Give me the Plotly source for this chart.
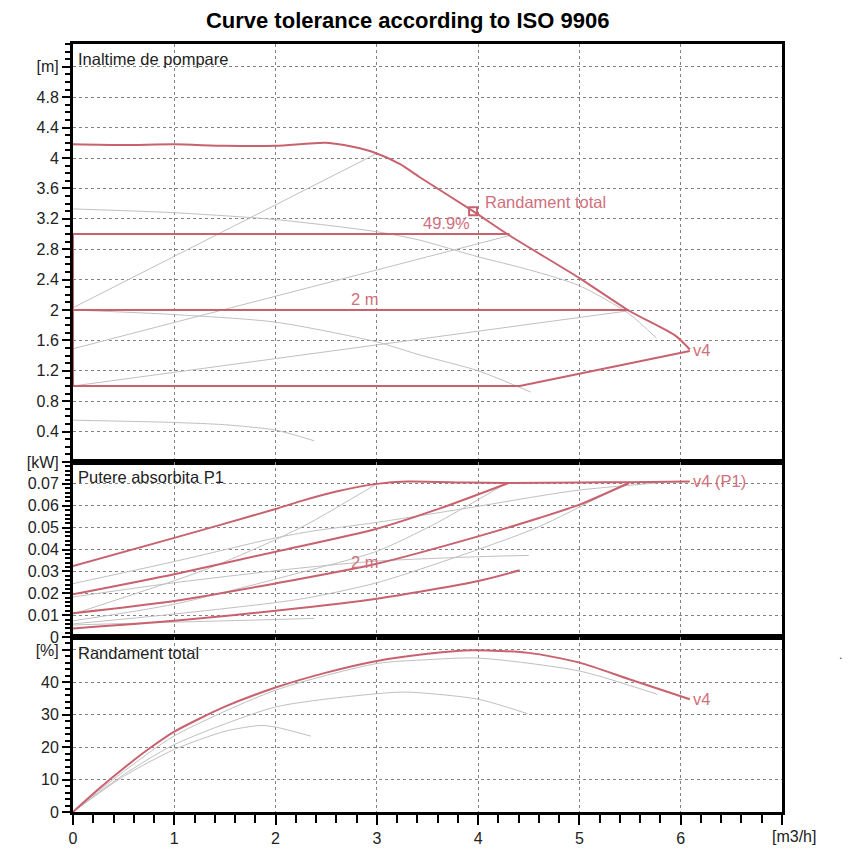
import plotly.graph_objects as go
from plotly.subplots import make_subplots

# ---------------- data ----------------
# Head panel [m]
Q_v4_H = [0, 0.5, 1.0, 1.5, 2.0, 2.5, 2.75, 3.0, 3.23, 3.42, 3.95, 4.31, 5.0, 5.49, 5.95, 6.09]
H_v4 = [4.18, 4.17, 4.18, 4.16, 4.16, 4.20, 4.15, 4.06, 3.92, 3.75, 3.30, 2.98, 2.42, 1.99, 1.66, 1.48]
Q_tol_low = [6.09, 4.41, 0, 0, 0]
H_tol_low = [1.46, 1.0, 1.0, 1.0, 3.0]
Q_3m = [0, 4.31]
H_3m = [3.0, 3.0]
Q_2m = [0, 5.49]
H_2m = [2.0, 2.0]
Q_sysA = [0, 3.0]
H_sysA = [2.03, 4.06]
Q_sysC = [0, 4.31]
H_sysC = [1.49, 2.98]
Q_sysD = [0, 5.49]
H_sysD = [1.0, 1.99]
Q_b_H = [0, 1, 2, 3, 3.42, 4, 4.5, 5, 5.49, 5.76]
H_b = [3.33, 3.28, 3.19, 3.03, 2.92, 2.70, 2.53, 2.32, 1.95, 1.63]
Q_e_H = [0, 1, 2, 3, 3.42, 4, 4.52]
H_e = [2.0, 1.94, 1.84, 1.58, 1.41, 1.20, 0.92]
Q_f_H = [0, 1, 1.5, 2, 2.38]
H_f = [0.55, 0.52, 0.49, 0.42, 0.28]
Q_bep = [3.95]
H_bep = [3.30]

# Power panel [kW]
Q_P_v4 = [0, 1, 2, 2.24, 2.6, 3.0, 3.3, 3.9, 4.3, 5.0, 5.5, 6.09]
P_v4 = [0.0324, 0.0453, 0.0585, 0.0620, 0.0665, 0.0700, 0.0711, 0.0706, 0.0704, 0.0706, 0.0708, 0.0711]
Q_P_3m = [0, 1, 2, 3, 3.63, 4.3]
P_3m = [0.0195, 0.0287, 0.0390, 0.0495, 0.0589, 0.0704]
Q_P_2m = [0, 1, 2, 3, 4, 4.61, 5.0, 5.49]
P_2m = [0.0109, 0.0165, 0.0245, 0.0335, 0.0460, 0.0545, 0.0605, 0.0704]
Q_P_1m = [0, 1, 2, 3, 4, 4.41]
P_1m = [0.0039, 0.0074, 0.0120, 0.0175, 0.0256, 0.0305]
Q_P_a = [0, 1.29, 2, 2.35, 3.0]
P_a = [0.0105, 0.0305, 0.0445, 0.0525, 0.0700]
Q_P_b = [0, 1, 2, 2.35, 3, 3.89, 4.61, 5.0, 5.76]
P_b = [0.0244, 0.0345, 0.0453, 0.0483, 0.0524, 0.0589, 0.0645, 0.0672, 0.0704]
Q_P_c = [0, 1, 2.24, 3, 3.56, 4.28]
P_c = [0.0074, 0.0150, 0.0294, 0.0392, 0.0514, 0.0703]
Q_P_d = [0, 1, 2.24, 3, 4, 4.61, 5.46]
P_d = [0.0060, 0.0105, 0.0173, 0.0248, 0.0400, 0.0506, 0.0703]
Q_P_e = [0, 1, 2.24, 3, 4, 4.5]
P_e = [0.0183, 0.0248, 0.0315, 0.0347, 0.0367, 0.0373]
Q_P_f = [0, 1, 2, 2.38]
P_f = [0.0055, 0.0068, 0.0080, 0.0085]

# Efficiency panel [%]
Q_E_v4 = [0, 0.25, 0.5, 0.75, 1, 1.5, 2, 2.5, 3, 3.5, 3.95, 4.5, 5, 5.5, 6.09]
E_v4 = [0, 7, 13.5, 19.5, 24.8, 32.5, 38.4, 43, 46.6, 48.8, 49.9, 49.1, 46.1, 40.9, 34.8]
Q_E_b = [0, 0.5, 1, 2, 3, 3.5, 4, 5, 5.77]
E_b = [0, 12.5, 23.5, 37.6, 45.8, 47.0, 47.5, 43.5, 36.3]
Q_E_e = [0, 0.5, 1, 2, 3, 3.3, 4, 4.49]
E_e = [0, 11.5, 20.8, 32.4, 36.5, 37.0, 34.8, 30.3]
Q_E_f = [0, 0.5, 1, 1.5, 1.85, 2, 2.35]
E_f = [0, 11, 19.3, 24.9, 26.7, 26.2, 23.4]

x_tickvals = [0, 1, 2, 3, 4, 5, 6, 7]
x_ticktext = ['0', '1', '2', '3', '4', '5', '6', '']
x_unit = '[m3/h]'
h_tickvals = [0.4, 0.8, 1.2, 1.6, 2.0, 2.4, 2.8, 3.2, 3.6, 4.0, 4.4, 4.8, 5.2]
h_ticktext = ['0.4', '0.8', '1.2', '1.6', '2', '2.4', '2.8', '3.2', '3.6', '4', '4.4', '4.8', '[m]']
p_tickvals = [0, 0.01, 0.02, 0.03, 0.04, 0.05, 0.06, 0.07, 0.08]
p_ticktext = ['0', '0.01', '0.02', '0.03', '0.04', '0.05', '0.06', '0.07', '[kW]']
e_tickvals = [0, 10, 20, 30, 40, 50]
e_ticktext = ['0', '10', '20', '30', '40', '[%]']

# ---------------- style ----------------
RED = 'rgb(200,98,110)'
RED_TXT = 'rgb(208,112,125)'
GRAY = 'rgb(192,192,192)'
FONT = 'Liberation Sans, Arial, sans-serif'

fig = make_subplots(rows=3, cols=1, shared_xaxes=True, vertical_spacing=0,
                    row_heights=[418, 175, 175])


def add(x, y, row, color, width, shape='spline'):
    fig.add_trace(go.Scatter(x=x, y=y, mode='lines',
                             line=dict(color=color, width=width, shape=shape, smoothing=0.7),
                             hoverinfo='skip', showlegend=False), row=row, col=1)


# head panel
for qx, hy in [(Q_sysA, H_sysA), (Q_sysC, H_sysC), (Q_sysD, H_sysD)]:
    add(qx, hy, 1, GRAY, 1, 'linear')
for qx, hy in [(Q_b_H, H_b), (Q_e_H, H_e), (Q_f_H, H_f)]:
    add(qx, hy, 1, GRAY, 1)
add(Q_3m, H_3m, 1, RED, 2, 'linear')
add(Q_2m, H_2m, 1, RED, 2, 'linear')
add(Q_tol_low, H_tol_low, 1, RED, 2, 'linear')
add(Q_v4_H, H_v4, 1, RED, 2)
fig.add_trace(go.Scatter(x=Q_bep, y=H_bep, mode='markers',
                         marker=dict(symbol='square-open', size=8, color=RED, line=dict(width=2, color=RED)),
                         hoverinfo='skip', showlegend=False), row=1, col=1)

# power panel
for qx, py in [(Q_P_a, P_a), (Q_P_b, P_b), (Q_P_c, P_c), (Q_P_d, P_d), (Q_P_e, P_e), (Q_P_f, P_f)]:
    add(qx, py, 2, GRAY, 1)
for qx, py in [(Q_P_v4, P_v4), (Q_P_3m, P_3m), (Q_P_2m, P_2m), (Q_P_1m, P_1m)]:
    add(qx, py, 2, RED, 2)

# efficiency panel
for qx, ey in [(Q_E_b, E_b), (Q_E_e, E_e), (Q_E_f, E_f)]:
    add(qx, ey, 3, GRAY, 1)
add(Q_E_v4, E_v4, 3, RED, 2)

grid = dict(showgrid=True, gridcolor='rgb(130,130,130)', gridwidth=1, griddash='3px,3px',
            showline=True, linecolor='black', linewidth=3, mirror=True, zeroline=False,
            automargin=False)
tickfont = dict(family=FONT, size=16, color='#222')

for r in (1, 2, 3):
    fig.update_xaxes(row=r, col=1, range=[0, 7], tickvals=x_tickvals, ticktext=x_ticktext,
                     **grid)
fig.update_xaxes(row=1, col=1, showticklabels=False, ticks='')
fig.update_xaxes(row=2, col=1, showticklabels=False, ticks='')
fig.update_xaxes(row=3, col=1, showticklabels=True, ticks='outside', ticklen=10, tickwidth=2,
                 tickcolor='black', tickfont=tickfont,
                 minor=dict(dtick=0.2, ticks='outside', ticklen=8, tickwidth=2, tickcolor='black', showgrid=False))

yticks = dict(ticks='outside', ticklen=8, tickwidth=2, tickcolor='black', tickfont=tickfont)
fig.update_yaxes(row=1, col=1, range=[0, 5.5], tickvals=h_tickvals, ticktext=h_ticktext, **grid, **yticks,
                 minor=dict(dtick=0.1, ticks='outside', ticklen=5, tickwidth=2, tickcolor='black', showgrid=False))
fig.update_yaxes(row=2, col=1, range=[0, 0.08], tickvals=p_tickvals, ticktext=p_ticktext, **grid, **yticks,
                 minor=dict(dtick=0.002, ticks='outside', ticklen=5, tickwidth=2, tickcolor='black', showgrid=False))
fig.update_yaxes(row=3, col=1, range=[0, 54], tickvals=e_tickvals, ticktext=e_ticktext, **grid, **yticks,
                 minor=dict(dtick=2, ticks='outside', ticklen=5, tickwidth=2, tickcolor='black', showgrid=False))

ann_font = dict(family=FONT, size=16.5, color='#222')
red_font = dict(family=FONT, size=16.5, color=RED_TXT)
annotations = [
    dict(text='Inaltime de pompare', xref='x domain', yref='y domain', x=0.004, y=1, yshift=-4,
         xanchor='left', yanchor='top', showarrow=False, font=ann_font),
    dict(text='Putere absorbita P1', xref='x2 domain', yref='y2 domain', x=0.004, y=1, yshift=-4,
         xanchor='left', yanchor='top', showarrow=False, font=ann_font),
    dict(text='Randament total', xref='x3 domain', yref='y3 domain', x=0.004, y=1, yshift=-5,
         xanchor='left', yanchor='top', showarrow=False, font=ann_font),
    dict(text=x_unit, xref='x3', yref='y3 domain', x=7, y=0, xshift=12, yshift=-14,
         xanchor='center', yanchor='top', showarrow=False, font=tickfont),
    dict(text='Randament total', xref='x', yref='y', x=4.05, y=3.42, xanchor='left', yanchor='middle',
         showarrow=False, font=red_font),
    dict(text='49.9%', xref='x', yref='y', x=3.94, y=3.14, xanchor='right', yanchor='middle',
         showarrow=False, font=red_font),
    dict(text='2 m', xref='x', yref='y', x=2.88, y=2.14, xanchor='center', yanchor='middle',
         showarrow=False, font=red_font),
    dict(text='v4', xref='x', yref='y', x=6.1, y=1.47, xanchor='left', yanchor='middle',
         showarrow=False, font=red_font),
    dict(text='2 m', xref='x2', yref='y2', x=2.88, y=0.0345, xanchor='center', yanchor='middle',
         showarrow=False, font=red_font),
    dict(text='v4 (P1)', xref='x2', yref='y2', x=6.1, y=0.0711, xanchor='left', yanchor='middle',
         showarrow=False, font=red_font),
    dict(text='v4', xref='x3', yref='y3', x=6.1, y=34.8, xanchor='left', yanchor='middle',
         showarrow=False, font=red_font),
    dict(text='.', xref='paper', yref='paper', x=1.083, y=0.205, xanchor='center', yanchor='middle',
         showarrow=False, font=dict(family=FONT, size=12, color='#444')),
]

fig.update_layout(
    width=852, height=852,
    margin=dict(l=65, r=78, t=36, b=48),
    paper_bgcolor='white', plot_bgcolor='white',
    showlegend=False,
    title=dict(text='<b>Curve tolerance according to ISO 9906</b>', x=0.472, xanchor='center',
               xref='paper', y=0.985, yanchor='middle', yref='container',
               font=dict(family=FONT, size=22, color='black')),
    annotations=annotations,
)

fig.write_html('out.html')
